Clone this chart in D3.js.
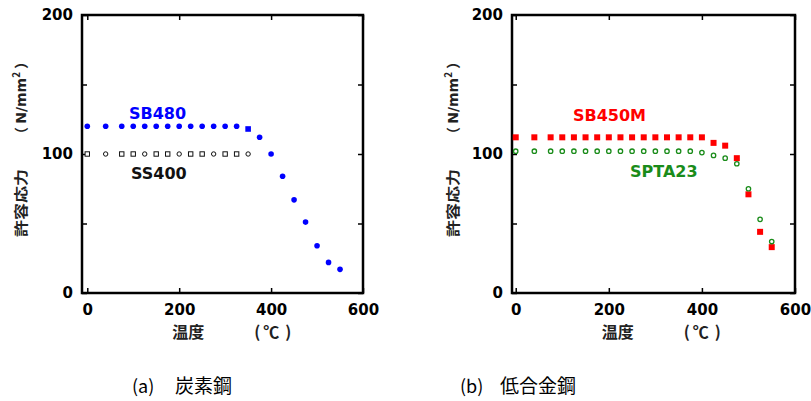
<!DOCTYPE html>
<html>
<head>
<meta charset="utf-8">
<script src="https://cdn.jsdelivr.net/npm/d3@7"></script>
<style>
  body { margin: 0; background: #fff; }
  text { font-family: "DejaVu Sans", "Liberation Sans", sans-serif; }
</style>
</head>
<body>
<svg id="chart" width="811" height="401"></svg>
<script>
// temperatures (°C) at which allowable stress is tabulated
const tempsA = [0, 40, 75, 100, 125, 150, 175, 200, 225, 250, 275, 300, 325, 350, 375, 400, 425, 450, 475, 500, 525, 550];
const tempsSS = [0, 40, 75, 100, 125, 150, 175, 200, 225, 250, 275, 300, 325, 350];
const tempsB = tempsA;

// allowable stress (N/mm2)
const sb480 = [120, 120, 120, 120, 120, 120, 120, 120, 120, 120, 120, 120, 120, 118, 112, 100, 84, 67, 51, 34, 22, 17];
const ss400 = [100, 100, 100, 100, 100, 100, 100, 100, 100, 100, 100, 100, 100, 100];
const sb450m = [112, 112, 112, 112, 112, 112, 112, 112, 112, 112, 112, 112, 112, 112, 112, 112, 108, 106, 97, 71, 44, 33];
const spta23 = [102, 102, 102, 102, 102, 102, 102, 102, 102, 102, 102, 102, 102, 102, 102, 101, 99, 97, 93, 75, 53, 37];

const xTicks = [0, 200, 400, 600];
const yTicks = [0, 50, 100, 150, 200];

const svg = d3.select('#chart');

const drawPanel = ({ left, right, xMin, labelX, series, labels, caption }) => {
	const top = 15, bottom = 293;
	const x = d3.scaleLinear().domain([xMin, 600]).range([left, right]);
	const y = d3.scaleLinear().domain([0, 200]).range([bottom, top]);
	const g = svg.append('g');

	const fmt = d => (d % 100 === 0 ? d : '');
	const styleAxis = (sel) => {
		sel.select('.domain').remove();
		sel.selectAll('.tick line').attr('stroke', '#000').attr('stroke-width', 1.5);
		sel.selectAll('.tick text')
			.attr('fill', '#000')
			.style('font-size', '15px')
			.style('font-weight', 'bold')
			.style('font-family', '"DejaVu Sans", sans-serif');
	};

	g.append('g').attr('transform', `translate(0,${bottom})`)
		.call(d3.axisBottom(x).tickValues(xTicks).tickSize(-5).tickPadding(11).tickFormat(d => d))
		.call(styleAxis);
	g.append('g').attr('transform', `translate(0,${top})`)
		.call(d3.axisTop(x).tickValues(xTicks).tickSize(-5).tickFormat(''))
		.call(styleAxis);
	g.append('g').attr('transform', `translate(${left},0)`)
		.call(d3.axisLeft(y).tickValues(yTicks).tickSize(-5).tickPadding(9).tickFormat(fmt))
		.call(styleAxis);
	g.append('g').attr('transform', `translate(${right},0)`)
		.call(d3.axisRight(y).tickValues(yTicks).tickSize(-5).tickFormat(''))
		.call(styleAxis);

	// frame
	g.append('rect')
		.attr('x', left).attr('y', top)
		.attr('width', right - left).attr('height', bottom - top)
		.attr('fill', 'none').attr('stroke', '#000').attr('stroke-width', 2.5);

	// data points
	series.forEach(s => {
		const pts = s.temps.map((t, i) => ({ t, v: s.values[i], i }));
		const sg = g.append('g');
		pts.forEach(p => {
			const cx = x(p.t), cy = y(p.v);
			const shape = s.shape(p.i);
			if (shape === 'circle') {
				sg.append('circle').attr('cx', cx).attr('cy', cy).attr('r', s.r)
					.attr('fill', s.fill).attr('stroke', s.stroke).attr('stroke-width', s.sw);
			} else {
				sg.append('rect').attr('x', cx - s.r).attr('y', cy - s.r)
					.attr('width', s.r * 2).attr('height', s.r * 2)
					.attr('fill', s.fill).attr('stroke', s.stroke).attr('stroke-width', s.sw);
			}
		});
	});

	// series names
	labels.forEach(l => {
		g.append('text').attr('x', l.x).attr('y', l.y)
			.attr('fill', l.color)
			.style('font-size', '16px').style('font-weight', 'bold')
			.text(l.text);
	});

	// y axis title (rotated)
	const yt = g.append('g').attr('transform', `translate(${labelX},0) rotate(-90)`);
	yt.append('text').attr('x', -237).attr('y', 6)
		.attr('textLength', 68).attr('lengthAdjust', 'spacingAndGlyphs')
		.style('font-family', '"Noto Sans CJK JP", sans-serif')
		.style('font-size', '14px').style('font-weight', 'bold').attr('fill', '#222')
		.text('許容応力');
	const unit = yt.append('text').attr('x', -141).attr('y', 6)
		.style('font-family', '"Noto Sans CJK JP", sans-serif')
		.style('font-size', '14px').style('font-weight', 'bold').attr('fill', '#222');
	unit.append('tspan').text('（ ');
	unit.append('tspan').style('font-family', '"DejaVu Sans", sans-serif').text('N/mm');
	unit.append('tspan').attr('dy', -6).style('font-size', '10px').text('2');
	unit.append('tspan').attr('dy', 6).text(' ）');

	// x axis title
	const x0 = x(200);
	const xTitle = (txt, dx) => g.append('text').attr('x', x0 + dx).attr('y', 338)
		.style('font-family', '"Noto Sans CJK JP", sans-serif')
		.style('font-size', '16px').style('font-weight', 'bold').attr('fill', '#222')
		.text(txt);
	xTitle('温度', -7);
	xTitle('(', 75);
	xTitle('℃', 84);
	xTitle(')', 106);

	// caption
	g.append('text').attr('x', caption.x).attr('y', 393)
		.style('font-family', '"Noto Sans CJK JP", sans-serif')
		.style('font-size', '18px').attr('fill', '#000')
		.text(caption.tag);
	g.append('text').attr('x', caption.x2).attr('y', 393)
		.style('font-family', '"Noto Sans CJK JP", sans-serif')
		.style('font-size', '19px').attr('fill', '#000')
		.text(caption.text);
};

drawPanel({
	left: 82, right: 363, xMin: -11.5, labelX: 20,
	series: [
		{ temps: tempsSS, values: ss400, fill: '#fff', stroke: '#111', sw: 1, r: 2.2, shape: i => (i % 3 === 1 ? 'circle' : 'rect') },
		{ temps: tempsA, values: sb480, fill: '#0000ff', stroke: 'none', sw: 0, r: 2.8, shape: i => (i === 13 ? 'rect' : 'circle') }
	],
	labels: [
		{ text: 'SB480', x: 129, y: 119, color: '#0000ff' },
		{ text: 'SS400', x: 131, y: 179, color: '#111' }
	],
	caption: { tag: '(a)', x: 132, x2: 175, text: '炭素鋼' }
});

drawPanel({
	left: 512, right: 795, xMin: -8, labelX: 452,
	series: [
		{ temps: tempsB, values: sb450m, fill: '#ff0000', stroke: 'none', sw: 0, r: 3, shape: () => 'rect' },
		{ temps: tempsB, values: spta23, fill: '#fff', stroke: '#1a8c1a', sw: 1.3, r: 2.2, shape: () => 'circle' }
	],
	labels: [
		{ text: 'SB450M', x: 573, y: 121, color: '#ff0000' },
		{ text: 'SPTA23', x: 630, y: 177, color: '#1a8c1a' }
	],
	caption: { tag: '(b)', x: 460, x2: 500, text: '低合金鋼' }
});
</script>
</body>
</html>
